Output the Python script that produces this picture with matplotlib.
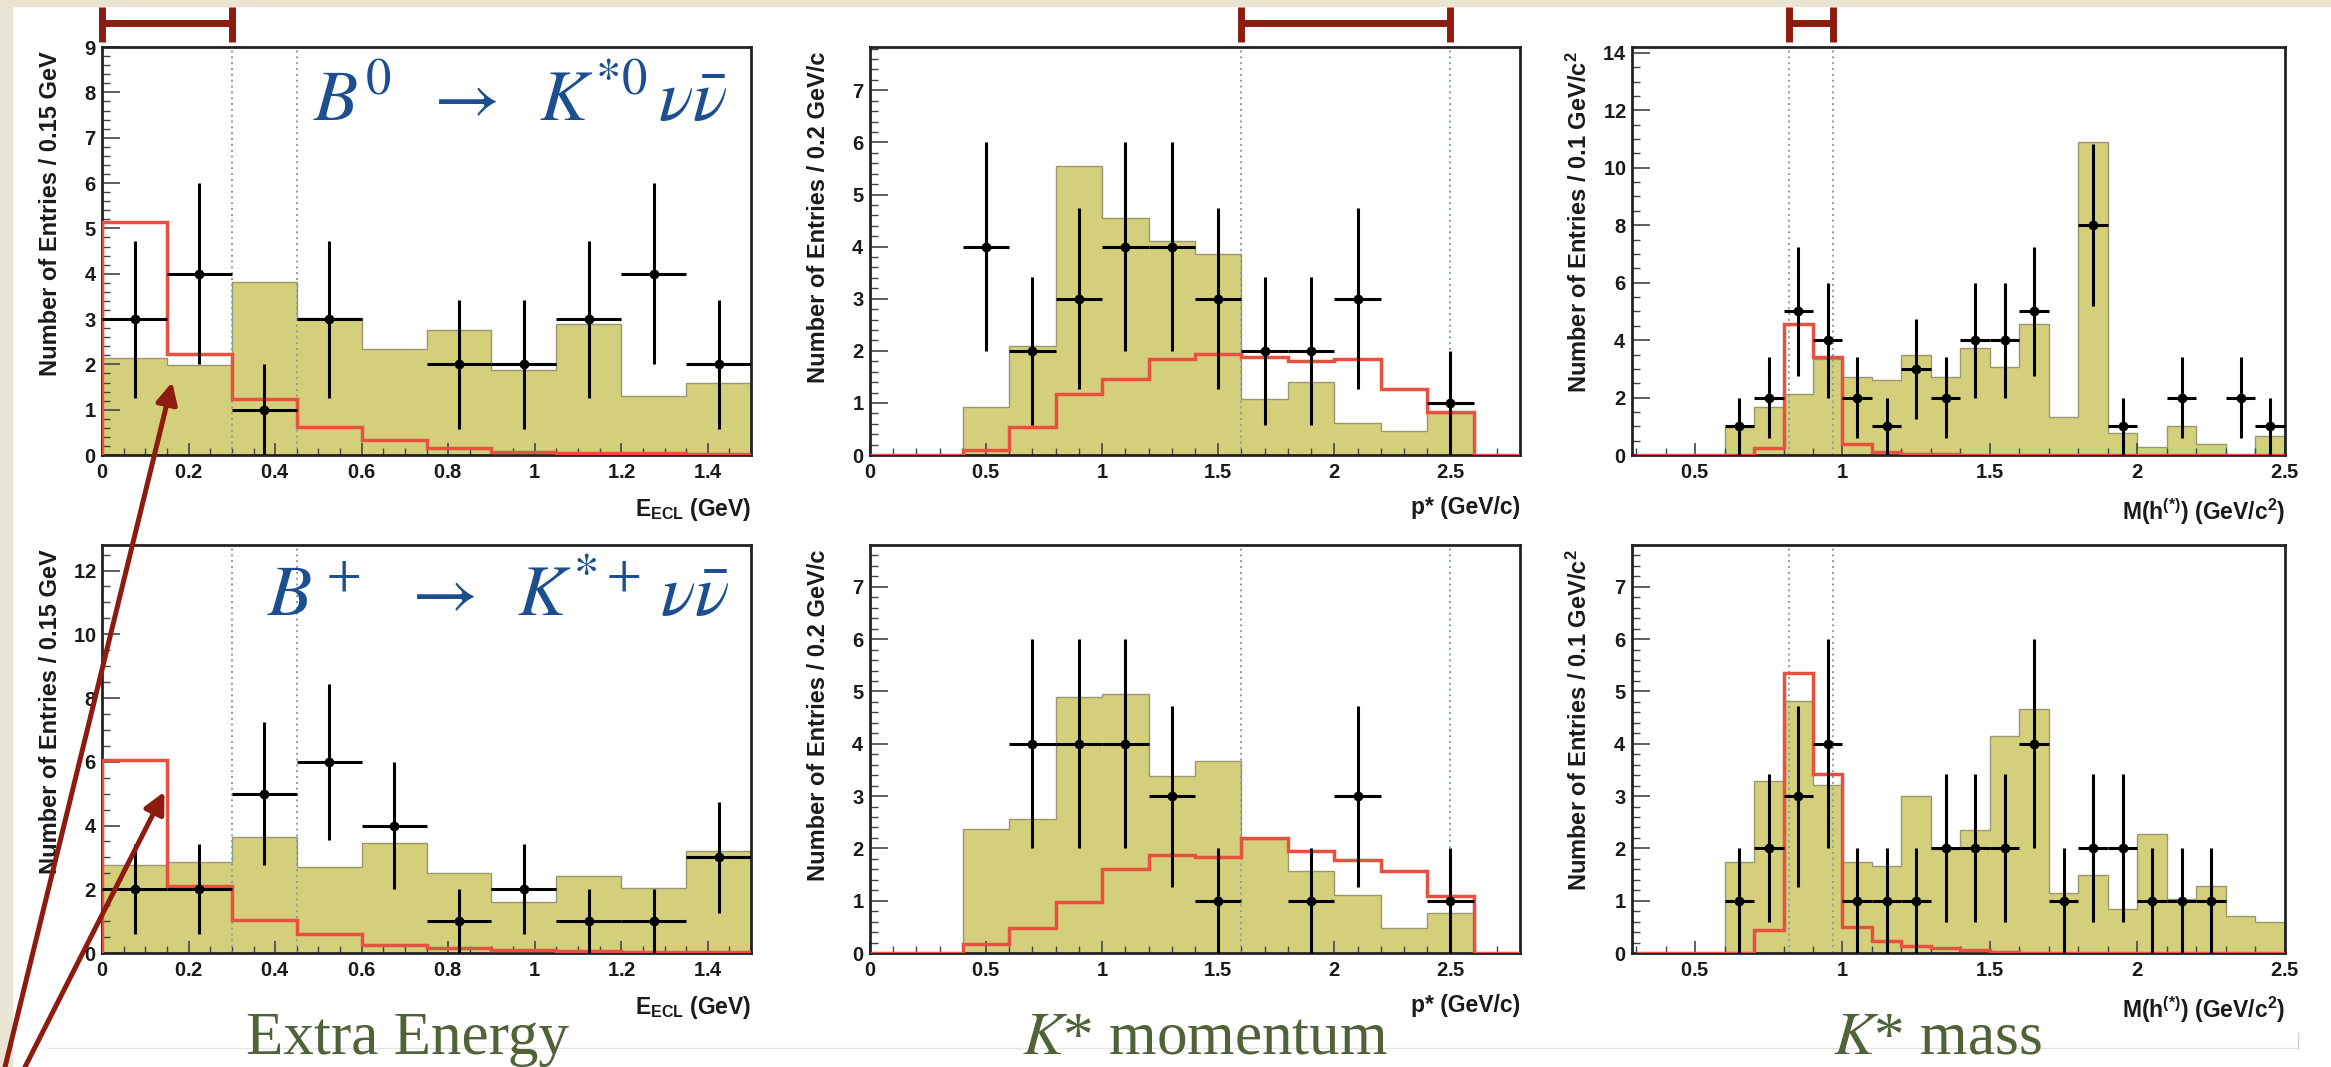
import numpy as np
import matplotlib
matplotlib.use("Agg")
import matplotlib.pyplot as plt
from matplotlib.ticker import MultipleLocator, AutoMinorLocator
from matplotlib.patches import Rectangle, ConnectionPatch
from matplotlib.lines import Line2D
import matplotlib.transforms as mtransforms

plt.rcParams['font.family'] = ['Liberation Sans', 'DejaVu Sans']
plt.rcParams['font.weight'] = 'normal'
plt.rcParams['mathtext.fontset'] = 'custom'
plt.rcParams['mathtext.rm'] = 'Liberation Sans:bold'
plt.rcParams['mathtext.it'] = 'Liberation Sans:italic:bold'
plt.rcParams['mathtext.bf'] = 'Liberation Sans:bold'

# ---- binning ----
eecl_edges = np.array([0, 0.15, 0.3, 0.45, 0.6, 0.75, 0.9, 1.05, 1.2, 1.35, 1.5])
pstar_edges = np.array([0, 0.2, 0.4, 0.6, 0.8, 1.0, 1.2, 1.4, 1.6, 1.8, 2.0, 2.2, 2.4, 2.6, 2.8])
mass_edges = np.array([0.3, 0.4, 0.5, 0.6, 0.7, 0.8, 0.9, 1.0, 1.1, 1.2, 1.3, 1.4, 1.5,
                       1.6, 1.7, 1.8, 1.9, 2.0, 2.1, 2.2, 2.3, 2.4, 2.5])

# ---- B0 -> K*0 nu nubar ----
bkg0_eecl = [2.14, 1.98, 3.82, 3.02, 2.34, 2.76, 1.88, 2.90, 1.30, 1.59]
sig0_eecl = [5.14, 2.23, 1.24, 0.62, 0.34, 0.15, 0.06, 0.05, 0.04, 0.03]
dat0_eecl = [3, 4, 1, 3, 0, 2, 2, 3, 4, 2]

bkg0_pstar = [0, 0, 0.92, 2.10, 5.54, 4.55, 4.11, 3.85, 1.08, 1.40, 0.62, 0.46, 0.80, 0]
sig0_pstar = [0, 0, 0.10, 0.54, 1.18, 1.46, 1.85, 1.94, 1.88, 1.81, 1.85, 1.27, 0.83, 0]
dat0_pstar = [0, 0, 4, 2, 3, 4, 4, 3, 2, 2, 3, 0, 1, 0]

bkg0_mass = [0, 0, 0, 0.98, 1.69, 2.13, 3.34, 2.71, 2.62, 3.49, 2.71, 3.71, 3.08, 4.55,
             1.32, 10.89, 0.77, 0.29, 1.00, 0.38, 0, 0.66]
sig0_mass = [0, 0, 0, 0, 0.23, 4.55, 3.40, 0.40, 0.12, 0.05, 0.03, 0.02, 0.01, 0.01,
             0, 0, 0, 0, 0, 0, 0, 0]
dat0_mass = [0, 0, 0, 1, 2, 5, 4, 2, 1, 3, 2, 4, 4, 5, 0, 8, 1, 0, 2, 0, 2, 1]

# ---- B+ -> K*+ nu nubar ----
bkgp_eecl = [2.75, 2.86, 3.65, 2.70, 3.44, 2.52, 1.59, 2.43, 2.04, 3.19]
sigp_eecl = [6.06, 2.10, 1.04, 0.61, 0.24, 0.17, 0.10, 0.05, 0.04, 0.03]
datp_eecl = [2, 2, 5, 6, 4, 1, 2, 1, 1, 3]

bkgp_pstar = [0, 0, 2.37, 2.56, 4.90, 4.96, 3.39, 3.68, 2.18, 1.56, 1.11, 0.48, 0.77, 0]
sigp_pstar = [0, 0, 0.18, 0.48, 0.98, 1.60, 1.88, 1.83, 2.19, 1.96, 1.77, 1.56, 1.10, 0]
datp_pstar = [0, 0, 0, 4, 4, 4, 3, 1, 0, 1, 3, 0, 1, 0]

bkgp_mass = [0, 0, 0, 1.75, 3.29, 4.81, 3.22, 1.75, 1.67, 3.00, 1.98, 2.35, 4.15, 4.66,
             1.14, 1.49, 0.85, 2.28, 1.03, 1.29, 0.71, 0.59]
sigp_mass = [0, 0, 0, 0, 0.44, 5.35, 3.43, 0.49, 0.23, 0.13, 0.10, 0.05, 0.02, 0.01,
             0, 0, 0, 0, 0, 0, 0, 0]
datp_mass = [0, 0, 0, 1, 2, 3, 4, 1, 1, 1, 2, 2, 2, 4, 1, 2, 2, 1, 1, 1, 0, 0]

# signal-region cuts
eecl_cuts = [0.3, 0.45]
pstar_cuts = [1.6, 2.5]
mass_cuts = [0.817, 0.967]

YELLOW = '#d4cf7a'
YEDGE = '#9a9870'
RED = '#e8503f'
CUTC = '#7f9fb2'
DARKRED = '#8e1b10'
BLUE = '#1b4f8f'
OLIVE = '#4f6238'


def bold_num(v, pos):
    return r'$\mathbf{%g}$' % round(v, 3)


def draw_panel(ax, edges, bkg, sig, dat, cuts, xlim, ylim, xmaj, xminor, ymaj, yminor, xlabel, ylabel):
    ax.stairs(bkg, edges, fill=True, color=YELLOW, zorder=1)
    ax.stairs(bkg, edges, color=YEDGE, lw=1.0, zorder=1.5)
    for c in cuts:
        ax.axvline(c, color=CUTC, ls=(0, (1, 2)), lw=1.4, zorder=2)
    ax.stairs(sig, edges, color=RED, lw=2.5, zorder=3)
    dat = np.array(dat, float)
    centers = (edges[:-1] + edges[1:]) / 2
    half = np.diff(edges) / 2
    m = dat > 0
    ax.errorbar(centers[m], dat[m], xerr=half[m], yerr=np.sqrt(dat[m]), fmt='o',
                color='black', ms=6, lw=2.2, capsize=0, zorder=4)
    ax.set_xlim(*xlim)
    ax.set_ylim(*ylim)
    ax.xaxis.set_major_locator(MultipleLocator(xmaj))
    ax.xaxis.set_minor_locator(AutoMinorLocator(xminor))
    ax.yaxis.set_major_locator(MultipleLocator(ymaj))
    ax.yaxis.set_minor_locator(AutoMinorLocator(yminor))
    ax.xaxis.set_major_formatter(plt.FuncFormatter(bold_num))
    ax.yaxis.set_major_formatter(plt.FuncFormatter(bold_num))
    ax.tick_params(axis='both', which='both', direction='in', top=False, right=False,
                   color='#444444', labelcolor='#1a1a1a', labelsize=14.5)
    ax.tick_params(axis='y', which='major', length=13, width=1.2, pad=4)
    ax.tick_params(axis='y', which='minor', length=6, width=1.0)
    ax.tick_params(axis='x', which='major', length=9, width=1.2, pad=6)
    ax.tick_params(axis='x', which='minor', length=5, width=1.0)
    for s in ax.spines.values():
        s.set_linewidth(2.0)
        s.set_color('#222222')
    ax.set_xlabel(xlabel, loc='right', fontsize=16.5, fontweight='bold', color='#1a1a1a')
    ax.xaxis.set_label_coords(1.0, -0.1)
    ax.set_ylabel(ylabel, loc='top', fontsize=17, fontweight='bold', color='#1a1a1a')
    ax.yaxis.set_label_coords(-0.062, 0.99)


fig = plt.figure(figsize=(23.31, 10.67), dpi=100)
fig.patch.set_facecolor('white')

lefts = [0.0438, 0.3732, 0.7001]
widths = [0.2784, 0.2789, 0.2801]
row_b = [0.5735, 0.1068]
row_h = [0.3824, 0.3824]

ax1 = fig.add_axes([lefts[0], row_b[0], widths[0], row_h[0]])
ax2 = fig.add_axes([lefts[1], row_b[0], widths[1], row_h[0]])
ax3 = fig.add_axes([lefts[2], row_b[0], widths[2], row_h[0]])
ax4 = fig.add_axes([lefts[0], row_b[1], widths[0], row_h[1]])
ax5 = fig.add_axes([lefts[1], row_b[1], widths[1], row_h[1]])
ax6 = fig.add_axes([lefts[2], row_b[1], widths[2], row_h[1]])

lab_e = r'E$_{\mathrm{ECL}}$ (GeV)'
lab_p = 'p* (GeV/c)'
lab_m = r'M(h$^{(*)}$) (GeV/c$^{2}$)'

draw_panel(ax1, eecl_edges, bkg0_eecl, sig0_eecl, dat0_eecl, eecl_cuts, (0, 1.5), (0, 9),
           0.2, 4, 1, 5, lab_e, 'Number of Entries / 0.15 GeV')
draw_panel(ax2, pstar_edges, bkg0_pstar, sig0_pstar, dat0_pstar, pstar_cuts, (0, 2.8), (0, 7.83),
           0.5, 5, 1, 5, lab_p, 'Number of Entries / 0.2 GeV/c')
draw_panel(ax3, mass_edges, bkg0_mass, sig0_mass, dat0_mass, mass_cuts, (0.286, 2.5), (0, 14.2),
           0.5, 5, 2, 4, lab_m, r'Number of Entries / 0.1 GeV/c$^{2}$')
draw_panel(ax4, eecl_edges, bkgp_eecl, sigp_eecl, datp_eecl, eecl_cuts, (0, 1.5), (0, 12.8),
           0.2, 4, 2, 4, lab_e, 'Number of Entries / 0.15 GeV')
draw_panel(ax5, pstar_edges, bkgp_pstar, sigp_pstar, datp_pstar, pstar_cuts, (0, 2.8), (0, 7.8),
           0.5, 5, 1, 5, lab_p, 'Number of Entries / 0.2 GeV/c')
draw_panel(ax6, mass_edges, bkgp_mass, sigp_mass, datp_mass, mass_cuts, (0.286, 2.5), (0, 7.8),
           0.5, 5, 1, 5, lab_m, r'Number of Entries / 0.1 GeV/c$^{2}$')

# decay mode labels
ax1.text(0.963, 0.821, r'$B^0 \;\;\rightarrow\;\; K^{*0}\,\nu\bar{\nu}$', transform=ax1.transAxes,
         ha='right', va='baseline', fontsize=52, fontweight='normal', color=BLUE,
         math_fontfamily='stix', zorder=5)
ax4.text(0.966, 0.826, r'$B^+ \;\;\rightarrow\;\; K^{*+}\,\nu\bar{\nu}$', transform=ax4.transAxes,
         ha='right', va='baseline', fontsize=52, fontweight='normal', color=BLUE,
         math_fontfamily='stix', zorder=5)

# signal window brackets above the top row
for ax, cuts in [(ax1, [0.0, 0.3]), (ax2, pstar_cuts), (ax3, mass_cuts)]:
    tr = mtransforms.blended_transform_factory(ax.transData, ax.transAxes)
    ax.add_line(Line2D(cuts, [1.059, 1.059], transform=tr, color=DARKRED, lw=5, clip_on=False,
                       solid_capstyle='butt'))
    for c in cuts:
        ax.add_line(Line2D([c, c], [1.012, 1.098], transform=tr, color=DARKRED, lw=5, clip_on=False,
                           solid_capstyle='butt'))

# arrows pointing at the signal peaks
for ax, start, tip in [(ax1, (5 / 2331, 0.0), (0.162, 1.61)), (ax4, (25 / 2331, 0.0), (0.144, 5.06))]:
    con = ConnectionPatch(xyA=start, coordsA=fig.transFigure, xyB=tip, coordsB=ax.transData,
                          arrowstyle='-|>', mutation_scale=32, color=DARKRED, lw=3.6, zorder=10)
    fig.add_artist(con)

# slide background strips
fig.add_artist(Rectangle((0, 1 - 6 / 1067), 1, 6 / 1067, transform=fig.transFigure,
                         color='#eae5d3', zorder=0))
fig.add_artist(Rectangle((0, 0), 12 / 2331, 1, transform=fig.transFigure, color='#eae5d3', zorder=0))
fig.add_artist(Line2D([47 / 2331, 2298 / 2331], [1 - 1048 / 1067] * 2, transform=fig.transFigure,
                      color='#e4e4e4', lw=1))
fig.add_artist(Line2D([2298 / 2331] * 2, [1 - 1048 / 1067, 1 - 1033 / 1067], transform=fig.transFigure,
                      color='#cfcfcf', lw=1))

# variable names under the columns
fig.text(407 / 2331, 1 - 1054 / 1067, 'Extra Energy', ha='center', va='baseline', fontsize=44,
         family='Liberation Serif', fontweight='normal', color=OLIVE)
fig.text(1205 / 2331, 1 - 1054 / 1067, r'$K$* momentum', ha='center', va='baseline', fontsize=44,
         family='Liberation Serif', fontweight='normal', color=OLIVE, math_fontfamily='stix')
fig.text(1937 / 2331, 1 - 1054 / 1067, r'$K$* mass', ha='center', va='baseline', fontsize=44,
         family='Liberation Serif', fontweight='normal', color=OLIVE, math_fontfamily='stix')

fig.savefig('out.png', dpi=100)
